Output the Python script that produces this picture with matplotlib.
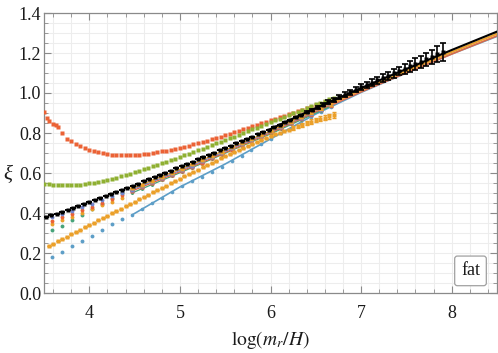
import matplotlib
matplotlib.use("Agg")
import matplotlib.pyplot as plt
from matplotlib.ticker import MultipleLocator

plt.rcParams['font.family'] = ['Liberation Serif', 'DejaVu Serif']
plt.rcParams['mathtext.fontset'] = 'stix'

# ---------------- data ----------------
black_x = [3.52, 3.58, 3.64, 3.70, 3.76, 3.82, 3.88, 3.94, 4.00, 4.06, 4.12, 4.18, 4.24, 4.30, 4.36,
           4.42, 4.48, 4.54, 4.60, 4.66, 4.72, 4.78, 4.84, 4.90, 4.96, 5.02, 5.08, 5.14, 5.20, 5.26,
           5.32, 5.38, 5.44, 5.50, 5.56, 5.62, 5.68, 5.74, 5.80, 5.86, 5.92, 5.98, 6.04, 6.10, 6.16,
           6.22, 6.28, 6.34, 6.40, 6.46, 6.52, 6.58, 6.64, 6.70, 6.76, 6.82, 6.88, 6.94, 7.00, 7.06,
           7.12, 7.18, 7.24, 7.30, 7.36, 7.42, 7.48, 7.54, 7.60, 7.66, 7.72, 7.78, 7.84, 7.90]
black_y = [0.378, 0.388, 0.397, 0.407, 0.416, 0.426, 0.436, 0.445, 0.455, 0.465, 0.475, 0.486, 0.496, 0.506, 0.516,
           0.527, 0.537, 0.547, 0.558, 0.569, 0.580, 0.590, 0.601, 0.612, 0.623, 0.634, 0.645, 0.657, 0.668, 0.679,
           0.691, 0.702, 0.714, 0.725, 0.736, 0.748, 0.759, 0.771, 0.782, 0.793, 0.805, 0.816, 0.828, 0.841, 0.853,
           0.866, 0.879, 0.891, 0.904, 0.916, 0.929, 0.941, 0.954, 0.967, 0.979, 0.992, 1.004, 1.017, 1.030, 1.041,
           1.052, 1.064, 1.075, 1.087, 1.098, 1.110, 1.121, 1.133, 1.145, 1.157, 1.169, 1.181, 1.193, 1.205]
black_err = [0.0] * 48 + [0.005, 0.006, 0.007, 0.008, 0.009, 0.010, 0.011, 0.012, 0.013, 0.014, 0.015, 0.016,
                          0.017, 0.018, 0.019, 0.020, 0.021, 0.022, 0.024, 0.026, 0.028, 0.030, 0.033, 0.036,
                          0.040, 0.045]

red_x = [3.50, 3.53, 3.56, 3.60, 3.63, 3.66, 3.70, 3.75, 3.80, 3.85, 3.90, 3.95, 4.00, 4.05, 4.10, 4.15,
         4.20, 4.25, 4.30, 4.35, 4.40, 4.45, 4.50, 4.55, 4.60, 4.65, 4.70, 4.75, 4.80, 4.85, 4.90, 4.95,
         5.00, 5.05, 5.10, 5.15, 5.20, 5.25, 5.30, 5.35, 5.40, 5.45, 5.50, 5.55, 5.60, 5.65, 5.70, 5.75,
         5.80, 5.85, 5.90, 5.95, 6.00, 6.05, 6.10, 6.15, 6.20, 6.25, 6.30, 6.35, 6.40, 6.45, 6.50, 6.55,
         6.60, 6.65, 6.70]
red_y = [0.905, 0.875, 0.860, 0.845, 0.838, 0.830, 0.800, 0.772, 0.760, 0.745, 0.733, 0.725, 0.717, 0.710, 0.704, 0.699,
         0.695, 0.692, 0.690, 0.689, 0.688, 0.689, 0.690, 0.692, 0.694, 0.697, 0.700, 0.704, 0.708, 0.712, 0.717, 0.722,
         0.727, 0.732, 0.737, 0.743, 0.749, 0.755, 0.762, 0.768, 0.775, 0.782, 0.789, 0.796, 0.803, 0.810, 0.818, 0.826,
         0.833, 0.841, 0.849, 0.857, 0.865, 0.872, 0.880, 0.887, 0.895, 0.902, 0.910, 0.917, 0.925, 0.932, 0.940, 0.947,
         0.955, 0.962, 0.970]

green_x = [3.50, 3.55, 3.60, 3.65, 3.70, 3.75, 3.80, 3.85, 3.90, 3.95, 4.00, 4.05, 4.10, 4.15, 4.20, 4.25,
           4.30, 4.35, 4.40, 4.45, 4.50, 4.55, 4.60, 4.65, 4.70, 4.75, 4.80, 4.85, 4.90, 4.95, 5.00, 5.05,
           5.10, 5.15, 5.20, 5.25, 5.30, 5.35, 5.40, 5.45, 5.50, 5.55, 5.60, 5.65, 5.70, 5.75, 5.80, 5.85,
           5.90, 5.95, 6.00, 6.05, 6.10, 6.15, 6.20, 6.25, 6.30, 6.35, 6.40, 6.45, 6.50, 6.55, 6.60, 6.65, 6.70]
green_y = [0.546, 0.544, 0.541, 0.539, 0.538, 0.538, 0.538, 0.540, 0.542, 0.545, 0.548, 0.551, 0.555, 0.560, 0.565, 0.571,
           0.577, 0.583, 0.590, 0.597, 0.605, 0.612, 0.620, 0.627, 0.635, 0.642, 0.650, 0.657, 0.665, 0.672, 0.680, 0.688,
           0.697, 0.705, 0.714, 0.722, 0.731, 0.739, 0.748, 0.756, 0.765, 0.773, 0.782, 0.791, 0.800, 0.809, 0.818, 0.827,
           0.836, 0.845, 0.854, 0.863, 0.872, 0.881, 0.890, 0.898, 0.907, 0.916, 0.925, 0.934, 0.943, 0.951, 0.960, 0.968, 0.976]

orange_x = [3.55, 3.60, 3.65, 3.70, 3.75, 3.80, 3.85, 3.90, 3.95, 4.00, 4.05, 4.10, 4.15, 4.20, 4.25, 4.30,
            4.35, 4.40, 4.45, 4.50, 4.55, 4.60, 4.65, 4.70, 4.75, 4.80, 4.85, 4.90, 4.95, 5.00, 5.05, 5.10,
            5.15, 5.20, 5.25, 5.30, 5.35, 5.40, 5.45, 5.50, 5.55, 5.60, 5.65, 5.70, 5.75, 5.80, 5.85, 5.90,
            5.95, 6.00, 6.05, 6.10, 6.15, 6.20, 6.25, 6.30, 6.35, 6.40, 6.45, 6.50, 6.55, 6.60, 6.65, 6.70]
orange_y = [0.235, 0.247, 0.258, 0.270, 0.282, 0.293, 0.305, 0.317, 0.328, 0.340, 0.352, 0.363, 0.375, 0.387, 0.398, 0.410,
            0.422, 0.434, 0.445, 0.457, 0.468, 0.480, 0.491, 0.503, 0.514, 0.526, 0.537, 0.548, 0.560, 0.571, 0.583, 0.594,
            0.606, 0.617, 0.628, 0.640, 0.651, 0.662, 0.673, 0.685, 0.695, 0.705, 0.715, 0.725, 0.735, 0.745, 0.755, 0.765,
            0.775, 0.785, 0.793, 0.801, 0.809, 0.817, 0.825, 0.833, 0.841, 0.849, 0.857, 0.865, 0.871, 0.877, 0.883, 0.890]
orange_err = [0.0] * 54 + [0.008, 0.009, 0.010, 0.010, 0.011, 0.012, 0.012, 0.013, 0.014, 0.015]

# sparse early snapshots (log < 4.5)
early_x = [3.585, 3.70, 3.81, 3.92, 4.03, 4.14, 4.25, 4.36]
blue_early = [0.180, 0.207, 0.237, 0.262, 0.287, 0.317, 0.347, 0.372]
teal_early = [0.315, 0.337, 0.365, 0.392, 0.420, 0.447, 0.473, 0.500]
purple_early = [0.378, 0.396, 0.412, 0.430, 0.447, 0.466, 0.484, 0.502]
red2_early = [0.360, 0.378, 0.396, 0.414, 0.432, 0.450, 0.469, 0.488]
orange2_early = [0.345, 0.364, 0.382, 0.400, 0.419, 0.438, 0.457, 0.476]

# later runs (log >= 4.5)
late_x = [4.47, 4.58, 4.69, 4.80, 4.91, 5.02, 5.13, 5.24, 5.35, 5.46, 5.57, 5.68, 5.79, 5.90, 6.01,
          6.12, 6.23, 6.34, 6.45, 6.56, 6.67]
blue_late = [0.390, 0.420, 0.448, 0.476, 0.505, 0.533, 0.558, 0.582, 0.606, 0.632, 0.658, 0.686, 0.715, 0.745, 0.772,
             0.798, 0.825, 0.852, 0.880, 0.905, 0.930]
teal_late = [0.500, 0.521, 0.542, 0.563, 0.584, 0.605, 0.626, 0.647, 0.669, 0.691, 0.713, 0.734, 0.755, 0.776, 0.797,
             0.820, 0.843, 0.866, 0.889, 0.912, 0.935]
purple_late = [0.517, 0.536, 0.556, 0.576, 0.596, 0.616, 0.637, 0.658, 0.679, 0.701, 0.723, 0.744, 0.765, 0.787, 0.808,
               0.831, 0.854, 0.877, 0.901, 0.924, 0.947]
red2_late = [0.510, 0.530, 0.550, 0.570, 0.590, 0.610, 0.631, 0.652, 0.673, 0.695, 0.717, 0.738, 0.760, 0.781, 0.803,
             0.826, 0.850, 0.873, 0.896, 0.920, 0.944]
orange2_late = [0.523, 0.542, 0.562, 0.582, 0.602, 0.622, 0.643, 0.664, 0.685, 0.707, 0.728, 0.749, 0.770, 0.791, 0.812,
                0.835, 0.858, 0.881, 0.904, 0.927, 0.950]
late_err = [0.0] * 16 + [0.006, 0.008, 0.010, 0.012, 0.014]

# fits extended to late times
blue_fit_x = [4.47, 5.0, 5.5, 6.0, 6.5, 7.0, 7.5, 8.0, 8.5]
blue_fit_y = [0.390, 0.530, 0.645, 0.770, 0.895, 1.003, 1.100, 1.195, 1.283]
fit_x = [6.0, 6.5, 7.0, 7.5, 8.0, 8.5]
black_fit = [0.820, 0.925, 1.025, 1.120, 1.215, 1.307]
orange_fit = [0.810, 0.915, 1.015, 1.110, 1.205, 1.296]
red_fit = [0.800, 0.905, 1.006, 1.101, 1.195, 1.286]

C_BLUE = '#5D9EC7'
C_ORANGE = '#EBA02A'
C_GREEN = '#8FB032'
C_RED = '#EB6235'
C_PURPLE = '#7485CC'
C_TEAL = '#47A37A'

# ---------------- figure ----------------
fig = plt.figure(figsize=(4.98, 3.53), dpi=100)
ax = fig.add_axes([44 / 498, 60 / 353, 453 / 498, 280 / 353])

ax.set_xlim(3.5, 8.5)
ax.set_ylim(0.0, 1.4)
ax.xaxis.set_major_locator(MultipleLocator(1))
ax.xaxis.set_minor_locator(MultipleLocator(0.2))
ax.yaxis.set_major_locator(MultipleLocator(0.2))
ax.yaxis.set_minor_locator(MultipleLocator(0.05))
ax.grid(which='both', color='#ededed', lw=0.8, zorder=0)
ax.set_axisbelow(True)

ms = 2.5
# fit lines
ax.plot(blue_fit_x, blue_fit_y, color=C_BLUE, lw=1.2, zorder=2)
ax.plot(fit_x, red_fit, color=C_RED, lw=1.3, alpha=0.85, zorder=2.1)
ax.plot(fit_x, orange_fit, color=C_ORANGE, lw=1.4, zorder=2.2)

# early sparse snapshots
for ys, c in [(blue_early, C_BLUE), (teal_early, C_TEAL), (orange2_early, C_ORANGE),
              (red2_early, C_RED), (purple_early, C_PURPLE)]:
    ax.plot(early_x, ys, ls='none', marker='o', ms=2.8, color=c, mec='none', zorder=3)

# later runs
ax.plot(late_x, blue_late, ls='none', marker='o', ms=2.6, color=C_BLUE, mec='none', zorder=3)
ax.plot(late_x, teal_late, ls='-', lw=0.9, marker='o', ms=2.2, color=C_TEAL, mec='none', zorder=3)
for ys, c in [(red2_late, C_RED), (purple_late, C_PURPLE), (orange2_late, C_ORANGE)]:
    ax.plot(late_x, ys, ls='-', lw=0.9, marker='s', ms=2.6, color=c, mec='none', zorder=3)
    ax.errorbar(late_x, ys, yerr=late_err, fmt='none', ecolor=c, elinewidth=0.9, capsize=1.5, zorder=3)

# dense runs
ax.plot(orange_x, orange_y, ls='none', marker='s', ms=ms, color=C_ORANGE, mec='none', zorder=4)
ax.errorbar(orange_x, orange_y, yerr=orange_err, fmt='none', ecolor=C_ORANGE, elinewidth=1.0, capsize=1.6, zorder=4)
ax.plot(red_x, red_y, ls='none', marker='s', ms=ms, color=C_RED, mec='none', zorder=4)
ax.plot(green_x, green_y, ls='none', marker='s', ms=ms, color=C_GREEN, mec='none', zorder=4)

# black reference run
ax.errorbar(black_x, black_y, yerr=black_err, fmt='none', ecolor='black', elinewidth=1.2, capsize=2.2,
            capthick=1.2, zorder=6)
ax.plot(black_x, black_y, ls='none', marker='s', ms=3.2, color='black', mec='none', zorder=6)
ax.plot(fit_x, black_fit, color='black', lw=1.5, zorder=7)

# frame & ticks
for s in ax.spines.values():
    s.set_color('#8a8a8a')
    s.set_linewidth(0.9)
ax.tick_params(which='both', direction='in', top=True, right=True, color='#8a8a8a',
               labelsize=13, labelcolor='#1a1a1a')
ax.tick_params(which='major', length=5, width=0.8)
ax.tick_params(which='minor', length=2.8, width=0.6)
ax.tick_params(axis='x', which='major', pad=9)
ax.tick_params(axis='y', which='major', pad=2)

ax.text(0.5, -0.168, r'$\log(m_r/H)$', transform=ax.transAxes, ha='center', va='center',
        fontsize=14, color='#1a1a1a')
ax.text(-0.08, 0.42, 'ξ', transform=ax.transAxes, ha='center', va='center',
        fontsize=15, style='italic', color='#1a1a1a')

ax.text(0.9415, 0.079, 'fat', transform=ax.transAxes, ha='center', va='center', fontsize=13,
        color='#1a1a1a', zorder=10,
        bbox=dict(boxstyle='round,pad=0.35,rounding_size=0.15', fc='white', ec='#a0a0a0', lw=0.9))

fig.savefig('out.png', dpi=100)
